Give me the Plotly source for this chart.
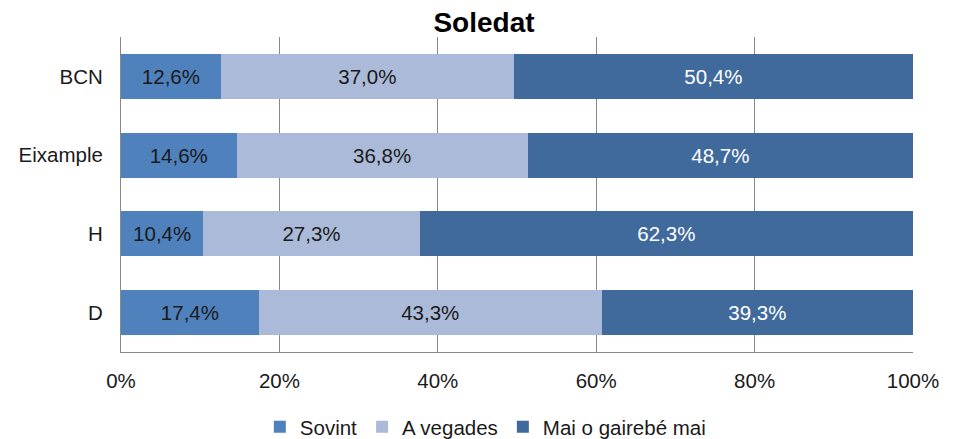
import plotly.graph_objects as go

# data
districts = ["BCN", "Eixample", "H", "D"]
sovint = [12.6, 14.6, 10.4, 17.4]
a_vegades = [37.0, 36.8, 27.3, 43.3]
mai = [50.4, 48.7, 62.3, 39.3]
series_names = ["Sovint", "A vegades", "Mai o gairebé mai"]
x_ticks = [0, 20, 40, 60, 80, 100]
x_tick_text = ["0%", "20%", "40%", "60%", "80%", "100%"]

colors = ["#4F81BD", "#AABAD8", "#406A9C"]
label_colors = ["#1a1a1a", "#1a1a1a", "#ffffff"]
FONT = "Liberation Sans, Arial"

fig = go.Figure()
for name, vals, col, lcol in zip(series_names, [sovint, a_vegades, mai], colors, label_colors):
    fig.add_trace(go.Bar(
        y=districts,
        x=vals,
        name=name,
        orientation="h",
        marker=dict(color=col, line=dict(width=0)),
        text=[f"{v:.1f}%".replace(".", ",") for v in vals],
        textposition="inside",
        insidetextanchor="middle",
        textfont=dict(color=lcol, size=20.5, family=FONT),
        constraintext="none",
    ))

# page body has an 8px margin, so the figure is 8px smaller and margins shifted
fig.update_layout(
    barmode="stack",
    barnorm="percent",
    bargap=0.43,
    width=947,
    height=431,
    paper_bgcolor="white",
    plot_bgcolor="white",
    font=dict(family=FONT, size=20.5, color="#1a1a1a"),
    margin=dict(l=113, r=42, t=29, b=87, autoexpand=False),
    title=dict(
        text="<b>Soledat</b>",
        font=dict(size=28, color="black"),
        x=476 / 947,
        xanchor="center",
        xref="container",
        y=1 - 14 / 431,
        yanchor="middle",
    ),
    legend=dict(
        orientation="h",
        x=0.46,
        xanchor="center",
        xref="paper",
        y=12 / 431,
        yref="container",
        yanchor="middle",
        font=dict(size=20.5),
        traceorder="normal",
        itemwidth=30,
        itemsizing="constant",
    ),
    uniformtext=dict(mode=False),
)

fig.update_xaxes(
    range=[0, 100],
    tickvals=x_ticks,
    ticktext=x_tick_text,
    showgrid=True,
    gridcolor="#888888",
    gridwidth=1,
    showline=True,
    linecolor="#888888",
    linewidth=1,
    ticks="",
    ticklabelstandoff=10,
    zeroline=False,
    fixedrange=True,
)
fig.update_yaxes(
    categoryorder="array",
    categoryarray=districts[::-1],
    showline=True,
    linecolor="#888888",
    linewidth=1,
    ticks="",
    ticklabelstandoff=13,
    showgrid=False,
    fixedrange=True,
)

fig.write_html("out.html")
